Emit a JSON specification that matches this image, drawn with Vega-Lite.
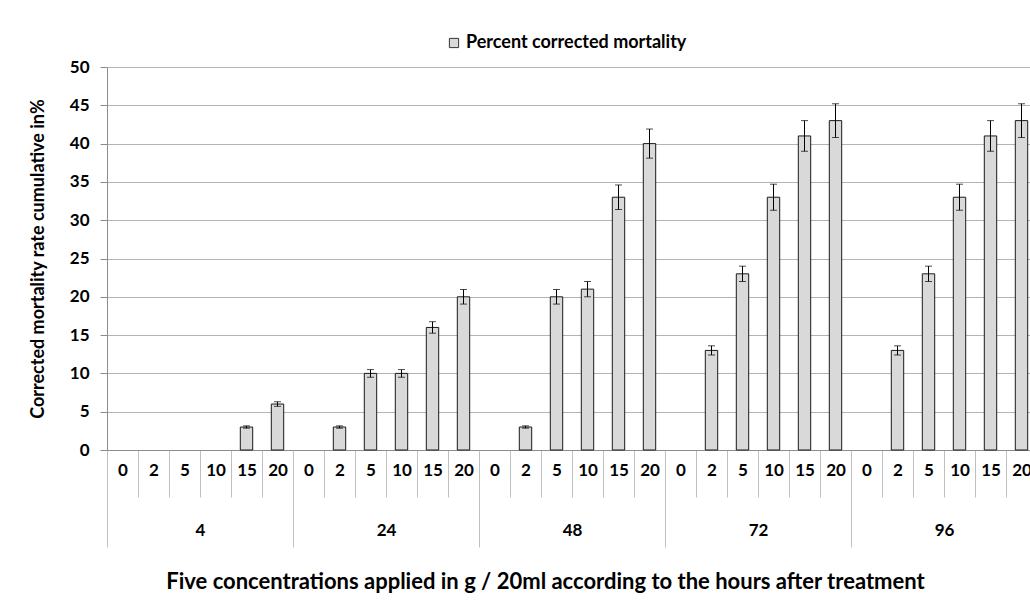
{
  "$schema": "https://vega.github.io/schema/vega-lite/v6.json",
  "autosize": {"type": "none"},
  "width": 930,
  "height": 383,
  "padding": {"left": 107, "top": 67, "right": -7, "bottom": 160},
  "background": "white",
  "config": {"view": {"stroke": null}, "font": "Lato"},
  "data": {"values": [
    {"hour": "4", "conc": "0", "key": "4|0", "value": 0, "lo": 0, "hi": 0},
    {"hour": "4", "conc": "2", "key": "4|2", "value": 0, "lo": 0, "hi": 0},
    {"hour": "4", "conc": "5", "key": "4|5", "value": 0, "lo": 0, "hi": 0},
    {"hour": "4", "conc": "10", "key": "4|10", "value": 0, "lo": 0, "hi": 0},
    {"hour": "4", "conc": "15", "key": "4|15", "value": 3, "lo": 2.85, "hi": 3.15},
    {"hour": "4", "conc": "20", "key": "4|20", "value": 6, "lo": 5.7, "hi": 6.3},
    {"hour": "24", "conc": "0", "key": "24|0", "value": 0, "lo": 0, "hi": 0},
    {"hour": "24", "conc": "2", "key": "24|2", "value": 3, "lo": 2.85, "hi": 3.15},
    {"hour": "24", "conc": "5", "key": "24|5", "value": 10, "lo": 9.5, "hi": 10.5},
    {"hour": "24", "conc": "10", "key": "24|10", "value": 10, "lo": 9.5, "hi": 10.5},
    {"hour": "24", "conc": "15", "key": "24|15", "value": 16, "lo": 15.25, "hi": 16.75},
    {"hour": "24", "conc": "20", "key": "24|20", "value": 20, "lo": 19.05, "hi": 20.95},
    {"hour": "48", "conc": "0", "key": "48|0", "value": 0, "lo": 0, "hi": 0},
    {"hour": "48", "conc": "2", "key": "48|2", "value": 3, "lo": 2.85, "hi": 3.15},
    {"hour": "48", "conc": "5", "key": "48|5", "value": 20, "lo": 19.05, "hi": 20.95},
    {"hour": "48", "conc": "10", "key": "48|10", "value": 21, "lo": 20.0, "hi": 22.0},
    {"hour": "48", "conc": "15", "key": "48|15", "value": 33, "lo": 31.4, "hi": 34.6},
    {"hour": "48", "conc": "20", "key": "48|20", "value": 40, "lo": 38.1, "hi": 41.9},
    {"hour": "72", "conc": "0", "key": "72|0", "value": 0, "lo": 0, "hi": 0},
    {"hour": "72", "conc": "2", "key": "72|2", "value": 13, "lo": 12.4, "hi": 13.6},
    {"hour": "72", "conc": "5", "key": "72|5", "value": 23, "lo": 22.0, "hi": 24.0},
    {"hour": "72", "conc": "10", "key": "72|10", "value": 33, "lo": 31.3, "hi": 34.7},
    {"hour": "72", "conc": "15", "key": "72|15", "value": 41, "lo": 39.0, "hi": 43.0},
    {"hour": "72", "conc": "20", "key": "72|20", "value": 43, "lo": 40.8, "hi": 45.2},
    {"hour": "96", "conc": "0", "key": "96|0", "value": 0, "lo": 0, "hi": 0},
    {"hour": "96", "conc": "2", "key": "96|2", "value": 13, "lo": 12.4, "hi": 13.6},
    {"hour": "96", "conc": "5", "key": "96|5", "value": 23, "lo": 22.0, "hi": 24.0},
    {"hour": "96", "conc": "10", "key": "96|10", "value": 33, "lo": 31.3, "hi": 34.7},
    {"hour": "96", "conc": "15", "key": "96|15", "value": 41, "lo": 39.0, "hi": 43.0},
    {"hour": "96", "conc": "20", "key": "96|20", "value": 43, "lo": 40.8, "hi": 45.2}
  ]},
  "resolve": {"scale": {"x": "independent"}, "axis": {"x": "independent"}},
  "layer": [
    {
      "layer": [
        {
          "transform": [{"filter": "datum.value > 0"}],
          "mark": {"type": "bar", "width": {"band": 0.4}, "stroke": "#1a1a1a", "strokeWidth": 1},
          "encoding": {
            "color": {"datum": "Percent corrected mortality", "type": "nominal",
              "scale": {"range": ["#d9d9d9"]},
              "legend": {"title": null, "orient": "none", "legendX": 338, "legendY": -33,
                "symbolType": "square", "symbolSize": 85, "symbolStrokeColor": "#333", "symbolStrokeWidth": 1,
                "labelLimit": 0,
                "labelFont": "Lato", "labelFontWeight": "bold", "labelFontSize": 18, "labelColor": "#000", "labelOffset": 3}},
            "y": {"field": "value", "type": "quantitative"}
          }
        },
        {
          "transform": [{"filter": "datum.value > 0"}],
          "mark": {"type": "rule", "color": "#000", "strokeWidth": 1},
          "encoding": {
            "y": {"field": "lo", "type": "quantitative"},
            "y2": {"field": "hi"}
          }
        },
        {
          "transform": [{"filter": "datum.value > 0"}],
          "mark": {"type": "tick", "color": "#000", "thickness": 1, "size": 7, "orient": "horizontal"},
          "encoding": {"y": {"field": "lo", "type": "quantitative"}}
        },
        {
          "transform": [{"filter": "datum.value > 0"}],
          "mark": {"type": "tick", "color": "#000", "thickness": 1, "size": 7, "orient": "horizontal"},
          "encoding": {"y": {"field": "hi", "type": "quantitative"}}
        }
      ],
      "encoding": {
        "x": {"field": "key", "type": "nominal",
          "scale": {"domain": ["4|0","4|2","4|5","4|10","4|15","4|20","24|0","24|2","24|5","24|10","24|15","24|20","48|0","48|2","48|5","48|10","48|15","48|20","72|0","72|2","72|5","72|10","72|15","72|20","96|0","96|2","96|5","96|10","96|15","96|20"],
            "paddingInner": 0, "paddingOuter": 0},
          "axis": {"title": null, "labelExpr": "split(datum.value, '|')[1]", "labelAngle": 0,
            "tickBand": "extent", "tickSize": 47, "tickColor": "#bfbfbf", "domainColor": "#8c8c8c",
            "labelPadding": -35, "labelFont": "Lato", "labelFontWeight": "bold", "labelFontSize": 17, "labelColor": "#000",
            "grid": false}
        },
        "y": {"type": "quantitative",
          "scale": {"domain": [0, 50], "nice": false},
          "axis": {"title": "Corrected mortality rate  cumulative in%", "values": [0,5,10,15,20,25,30,35,40,45,50],
            "grid": true, "gridColor": "#b3b3b3", "domainColor": "#8c8c8c", "tickColor": "#8c8c8c", "tickSize": 7,
            "labelPadding": 11, "labelFont": "Lato", "labelFontWeight": "bold", "labelFontSize": 17, "labelColor": "#000",
            "titleFont": "Lato", "titleFontWeight": "bold", "titleFontSize": 18, "titleColor": "#000", "titlePadding": 22, "titleLimit": 0}
        }
      }
    },
    {
      "mark": {"type": "rule", "opacity": 0},
      "encoding": {
        "x": {"field": "hour", "type": "nominal", "sort": null,
          "scale": {"domain": ["4","24","48","72","96"], "paddingInner": 0, "paddingOuter": 0},
          "axis": {"orient": "bottom", "domain": false, "tickBand": "extent", "tickSize": 97, "tickColor": "#bfbfbf",
            "labelPadding": -25, "labelAngle": 0, "labelFont": "Lato", "labelFontWeight": "bold", "labelFontSize": 17, "labelColor": "#000",
            "title": "Five concentrations applied in g / 20ml according to the hours after treatment",
            "titleFont": "Lato", "titleFontWeight": "bold", "titleFontSize": 22, "titleColor": "#000", "titleLimit": 0,
            "titleX": 438, "titleAlign": "center", "titlePadding": 24}
        }
      }
    }
  ]
}
